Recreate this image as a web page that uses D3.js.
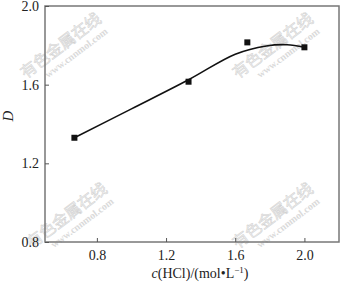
<!DOCTYPE html>
<html>
<head>
<meta charset="utf-8">
<script src="https://cdn.jsdelivr.net/npm/d3@7"></script>
<style>
  body { margin: 0; background: #fff; }
  svg text { font-family: "Liberation Serif", "Times New Roman", serif; }
</style>
</head>
<body>
<div id="chart"></div>
<script>
// measured points
var pointX = [0.67, 1.33, 1.67, 2.0];
var pointY = [1.33, 1.615, 1.815, 1.79];

// fitted curve
var curveX = [0.67, 1.0, 1.33, 1.6, 1.78, 1.9, 2.0];
var curveY = [1.33, 1.477, 1.625, 1.755, 1.797, 1.803, 1.79];

var xTicks = [0.8, 1.2, 1.6, 2.0];
var yTicks = [0.8, 1.2, 1.6, 2.0];

var width = 340, height = 283;
var margin = {top: 6, right: 1, bottom: 41, left: 45};

var svg = d3.select("#chart").append("svg")
    .attr("width", width)
    .attr("height", height);

// watermarks
var marks = [[64, 50], [276, 50], [70, 220], [276, 220]];
marks.forEach(function(m) {
  var g = svg.append("g")
      .attr("transform", `translate(${m[0]},${m[1]}) rotate(-37)`);
  g.append("text")
      .attr("text-anchor", "middle")
      .style("font-family", "'Noto Sans CJK SC'")
      .attr("font-size", 16)
      .attr("fill", "#f2f2f2")
      .attr("stroke", "#d0d0d0")
      .attr("stroke-width", 0.5)
      .text("有色金属在线");
  g.append("text")
      .attr("text-anchor", "middle")
      .attr("y", 13)
      .attr("x", 8)
      .attr("font-size", 10)
      .attr("font-weight", "bold")
      .attr("fill", "#dadada")
      .text("www.cnnmol.com");
});

var x = d3.scaleLinear()
    .domain([0.5, 2.2])
    .range([margin.left, width - margin.right]);

var y = d3.scaleLinear()
    .domain([0.8, 2.0])
    .range([height - margin.bottom, margin.top]);

// frame
svg.append("rect")
    .attr("x", margin.left)
    .attr("y", margin.top)
    .attr("width", width - margin.right - margin.left)
    .attr("height", height - margin.bottom - margin.top)
    .attr("fill", "none")
    .attr("stroke", "#777")
    .attr("stroke-width", 1.5);

var bottomAxis = d3.axisBottom(x).tickValues(xTicks).tickFormat(d3.format(".1f"))
    .tickSizeInner(-4).tickSizeOuter(0).tickPadding(8);
var leftAxis = d3.axisLeft(y).tickValues(yTicks).tickFormat(d3.format(".1f"))
    .tickSizeInner(-4).tickSizeOuter(0).tickPadding(6);

var gx = svg.append("g")
    .attr("transform", `translate(0,${height - margin.bottom})`)
    .call(bottomAxis);
var gy = svg.append("g")
    .attr("transform", `translate(${margin.left},0)`)
    .call(leftAxis);

[gx, gy].forEach(function(g) {
  g.select(".domain").remove();
  g.selectAll(".tick line").attr("stroke", "#555");
  g.selectAll(".tick text")
      .attr("font-size", 14)
      .attr("fill", "#222")
      .style("font-family", "'Liberation Serif', serif");
});

// curve
var curveData = curveX.map(function(d, i) { return [d, curveY[i]]; });
var line = d3.line()
    .x(d => x(d[0]))
    .y(d => y(d[1]))
    .curve(d3.curveCatmullRom.alpha(0.5));

svg.append("path")
    .datum(curveData)
    .attr("d", line)
    .attr("fill", "none")
    .attr("stroke", "#111")
    .attr("stroke-width", 1.6);

// points
svg.selectAll("rect.pt")
    .data(pointX)
    .enter()
    .append("rect")
    .attr("class", "pt")
    .attr("x", (d, i) => x(d) - 3)
    .attr("y", (d, i) => y(pointY[i]) - 3)
    .attr("width", 6)
    .attr("height", 6)
    .attr("fill", "#111");

// axis titles
var xt = svg.append("text")
    .attr("x", 200)
    .attr("y", 278)
    .attr("text-anchor", "middle")
    .attr("font-size", 14)
    .attr("fill", "#222");
xt.append("tspan").attr("font-style", "italic").text("c");
xt.append("tspan").text("(HCl)/(mol\u2022L");
xt.append("tspan").attr("font-size", 9).attr("dy", -5).text("\u22121");
xt.append("tspan").attr("dy", 5).text(")");

svg.append("text")
    .attr("transform", "translate(13,116) rotate(-90)")
    .attr("text-anchor", "middle")
    .attr("font-size", 15)
    .attr("font-style", "italic")
    .attr("fill", "#222")
    .text("D");
</script>
</body>
</html>
